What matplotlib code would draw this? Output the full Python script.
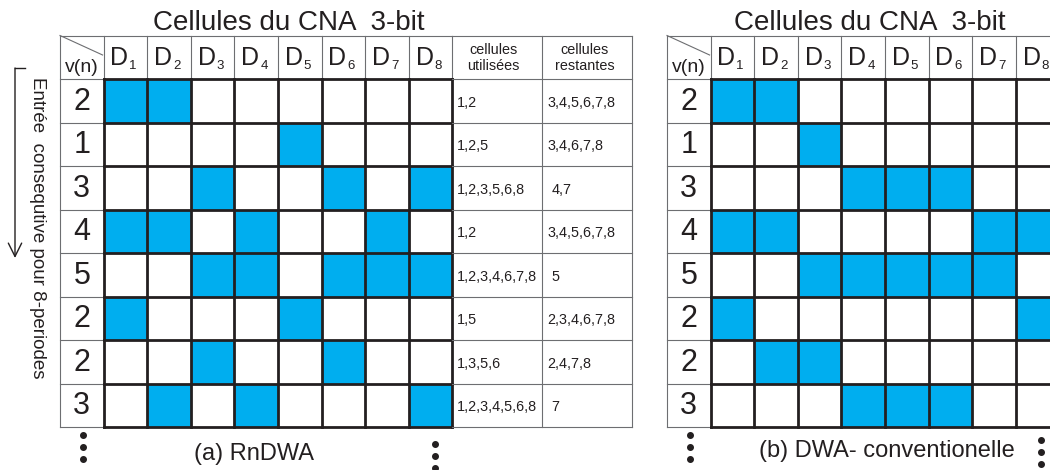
import matplotlib.pyplot as plt
from matplotlib.patches import Rectangle

plt.rcParams['font.family'] = ['Liberation Sans', 'DejaVu Sans']

# contenu des deux tableaux
v_n = [2, 1, 3, 4, 5, 2, 2, 3]
cells_rndwa = [[1, 2], [5], [3, 6, 8], [1, 2, 4, 7], [3, 4, 6, 7, 8], [1, 5], [3, 6], [2, 4, 8]]
cells_dwa = [[1, 2], [3], [4, 5, 6], [1, 2, 7, 8], [3, 4, 5, 6, 7], [1, 8], [2, 3], [4, 5, 6]]
used = ['1,2', '1,2,5', '1,2,3,5,6,8', '1,2', '1,2,3,4,6,7,8', '1,5', '1,3,5,6', '1,2,3,4,5,6,8']
remaining = ['3,4,5,6,7,8', '3,4,6,7,8', '4,7', '3,4,5,6,7,8', '5', '2,3,4,6,7,8', '2,4,7,8', '7']
col_heads = ['cellules\nutilisées', 'cellules\nrestantes']
n_cells = 8
title = 'Cellules du CNA  3-bit'
captions = ['(a) RnDWA', '(b) DWA- conventionelle']
side_label = 'Entrée  consequtive pour 8-periodes'

BLUE = '#00aeef'
DARK = '#231f20'
GREY = '#6d6e71'
CW, RH = 43.6, 43.5
TOP, HB = 35.5, 79.0
thick = dict(color=DARK, lw=2.0, solid_capstyle='projecting')
thin = dict(color=GREY, lw=0.8)

fig = plt.figure(figsize=(10.5, 4.7), dpi=100)
ax = fig.add_axes([0, 0, 1, 1])
ax.set_xlim(0, 1050)
ax.set_ylim(470, 0)
ax.axis('off')


def draw_table(x0, filled):
    dx = x0 + CW
    right = dx + n_cells * CW
    bottom = HB + len(v_n) * RH
    for i, row in enumerate(filled):
        for d in row:
            ax.add_patch(Rectangle((dx + (d - 1) * CW, HB + i * RH), CW, RH,
                                   facecolor=BLUE, edgecolor='none'))
    # en-tete et colonne v(n)
    ax.plot([x0, right], [TOP, TOP], **thin)
    ax.plot([x0, x0], [TOP, bottom], **thin)
    for j in range(n_cells + 1):
        ax.plot([dx + j * CW] * 2, [TOP, HB], **thin)
    for i in range(len(v_n) + 1):
        ax.plot([x0, dx], [HB + i * RH] * 2, **thin)
    ax.plot([x0, dx - 1], [TOP, 55], **thin)
    ax.text(x0 + CW / 2, 72, 'v(n)', ha='center', va='baseline', fontsize=14, color=DARK)
    for j in range(n_cells):
        cx = dx + j * CW + CW / 2
        ax.text(cx + 3, 65, 'D', ha='right', va='baseline', fontsize=18, color=DARK)
        ax.text(cx + 4, 69, str(j + 1), ha='left', va='baseline', fontsize=9.5, color=DARK)
    for i, v in enumerate(v_n):
        ax.text(x0 + CW / 2, HB + i * RH + RH / 2 + 1, str(v), ha='center', va='center',
                fontsize=22, color=DARK)
    # grille epaisse
    for i in range(len(v_n) + 1):
        ax.plot([dx, right], [HB + i * RH] * 2, **thick)
    for j in range(n_cells + 1):
        ax.plot([dx + j * CW] * 2, [HB, bottom], **thick)
    return right, bottom


right, bottom = draw_table(60, cells_rndwa)
draw_table(667, cells_dwa)

# colonnes de texte (tableau a)
c1, c2 = right + 90, right + 180
for x in (c1, c2):
    ax.plot([x, x], [TOP, bottom], **thin)
ax.plot([right, c2], [TOP, TOP], **thin)
for i in range(len(v_n) + 1):
    ax.plot([right, c2], [HB + i * RH] * 2, **thin)
ax.text(right + 41, 58, col_heads[0], ha='center', va='center', fontsize=10.4,
        color=DARK, linespacing=1.1)
ax.text(c1 + 42, 58, col_heads[1], ha='center', va='center', fontsize=10.4,
        color=DARK, linespacing=1.1)
for i, (u, r) in enumerate(zip(used, remaining)):
    y = HB + i * RH + RH / 2 + 2
    ax.text(right + 4, y, u, ha='left', va='center', fontsize=10.4, color=DARK)
    ax.text(c1 + 5 if len(r) > 3 else c1 + 9, y, r, ha='left', va='center',
            fontsize=10.4, color=DARK)

# titres et legendes
ax.text(289, 30, title, ha='center', va='baseline', fontsize=20, color=DARK)
ax.text(870, 30, title, ha='center', va='baseline', fontsize=20, color=DARK)
ax.text(254, 460, captions[0], ha='center', va='baseline', fontsize=17, color=DARK)
ax.text(887, 457, captions[1], ha='center', va='baseline', fontsize=17, color=DARK)

# points de suspension
for x, y0 in [(83, 435), (435, 444), (690, 435), (1041, 440)]:
    ax.plot([x] * 3, [y0, y0 + 12, y0 + 24], 'o', ms=4, color=DARK)

# fleche laterale
ax.plot([15, 25], [68, 68], color=DARK, lw=1)
ax.annotate('', xy=(15, 258), xytext=(15, 68),
            arrowprops=dict(arrowstyle='->', lw=1, color=DARK, shrinkA=0, shrinkB=0,
                            mutation_scale=24))
ax.text(37, 228, side_label, rotation=-90, ha='center', va='center', fontsize=13.5,
        color=DARK)

fig.savefig('out.png', dpi=100)
